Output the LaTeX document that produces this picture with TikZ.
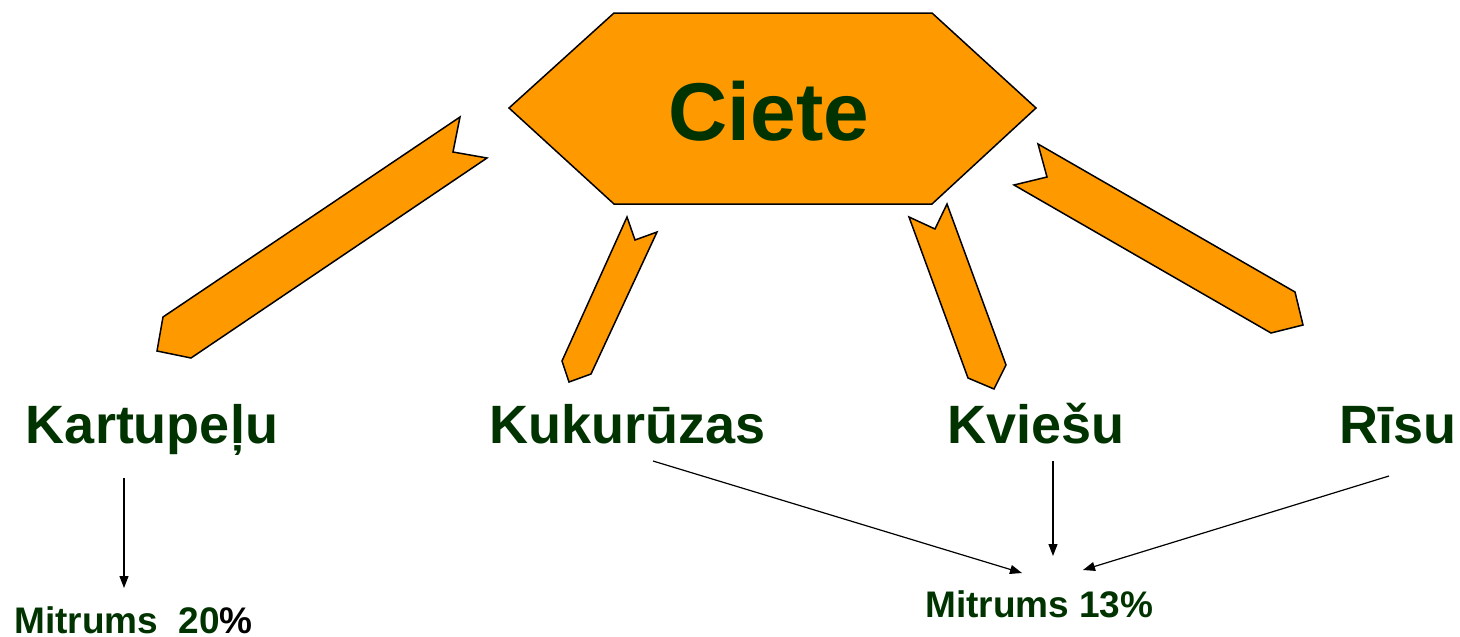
\documentclass[tikz,border=0pt]{standalone}
\usepackage{fontspec}
\setmainfont{Liberation Sans}
\usepackage{xcolor}
\definecolor{cieteorange}{RGB}{255,153,0}
\definecolor{cietegreen}{RGB}{0,51,0}
\usetikzlibrary{arrows.meta,calc}
\tikzset{
  hexbox/.style={draw=black, line width=1.5pt, fill=cieteorange},
  barrow/.style={draw=black, line width=1.5pt, fill=cieteorange},
  bigtitle/.style={font=\fontsize{82}{90}\selectfont\bfseries, text=cietegreen,
                   inner sep=0pt, anchor=base},
  grain/.style={font=\fontsize{54}{60}\selectfont\bfseries, text=cietegreen,
                inner sep=0pt, anchor=base},
  moist/.style={font=\fontsize{37}{42}\selectfont\bfseries, text=cietegreen,
                inner sep=0pt, anchor=base west},
  thinarrow/.style={-{Triangle[length=12pt, width=9pt]}, line width=1.2pt, black},
}
\begin{document}
\begin{tikzpicture}[x=1pt, y=-1pt]
\useasboundingbox (0,0) rectangle (1460,637);

% Hexagon with the title
\draw[hexbox] (509,108) -- (614,13) -- (932,13) -- (1036,108) -- (932,204) -- (614,204) -- cycle;
\node[bigtitle] (ciete) at (769,140) {Ciete};

% Block arrows out of the hexagon
\draw[barrow] (460,117) -- (453,152) -- (487,158) -- (191,358) -- (157,351) -- (163,317) -- cycle;
\draw[barrow] (627,217) -- (635,240) -- (657,232) -- (591,374) -- (569,382) -- (562,361) -- cycle;
\draw[barrow] (909,217) -- (935,229) -- (947,204) -- (1006,365) -- (994,389) -- (968,378) -- cycle;
\draw[barrow] (1038,144) -- (1047,177) -- (1014,185) -- (1271,333) -- (1303,325) -- (1295,292) -- cycle;

% Starch sources
\node[grain] (kart) at (152,443) {Kartupeļu};
\node[grain] (kuk) at (628,443) {Kukurūzas};
\node[grain] (kvi) at (1036,443) {Kviešu};
\node[grain] (ris) at (1398,443) {Rīsu};

% Moisture
\node[moist] (m20) at (14,633) {Mitrums\ \ 20\textcolor{black}{\%}};
\node[moist] (m13) at (925,617) {Mitrums 13\%};

% Thin arrows
\draw[thinarrow] ([xshift=-28pt, yshift=-35pt]kart.base) -- ([xshift=110pt, yshift=45pt]m20.base west);
\draw[thinarrow] ([xshift=25pt, yshift=-18pt]kuk.base) -- ([xshift=97pt, yshift=44pt]m13.base west);
\draw[thinarrow] ([xshift=17pt, yshift=-18pt]kvi.base) -- ([xshift=128pt, yshift=61pt]m13.base west);
\draw[thinarrow] ([xshift=-9pt, yshift=-33pt]ris.base) -- ([xshift=158pt, yshift=47pt]m13.base west);

\end{tikzpicture}
\end{document}
